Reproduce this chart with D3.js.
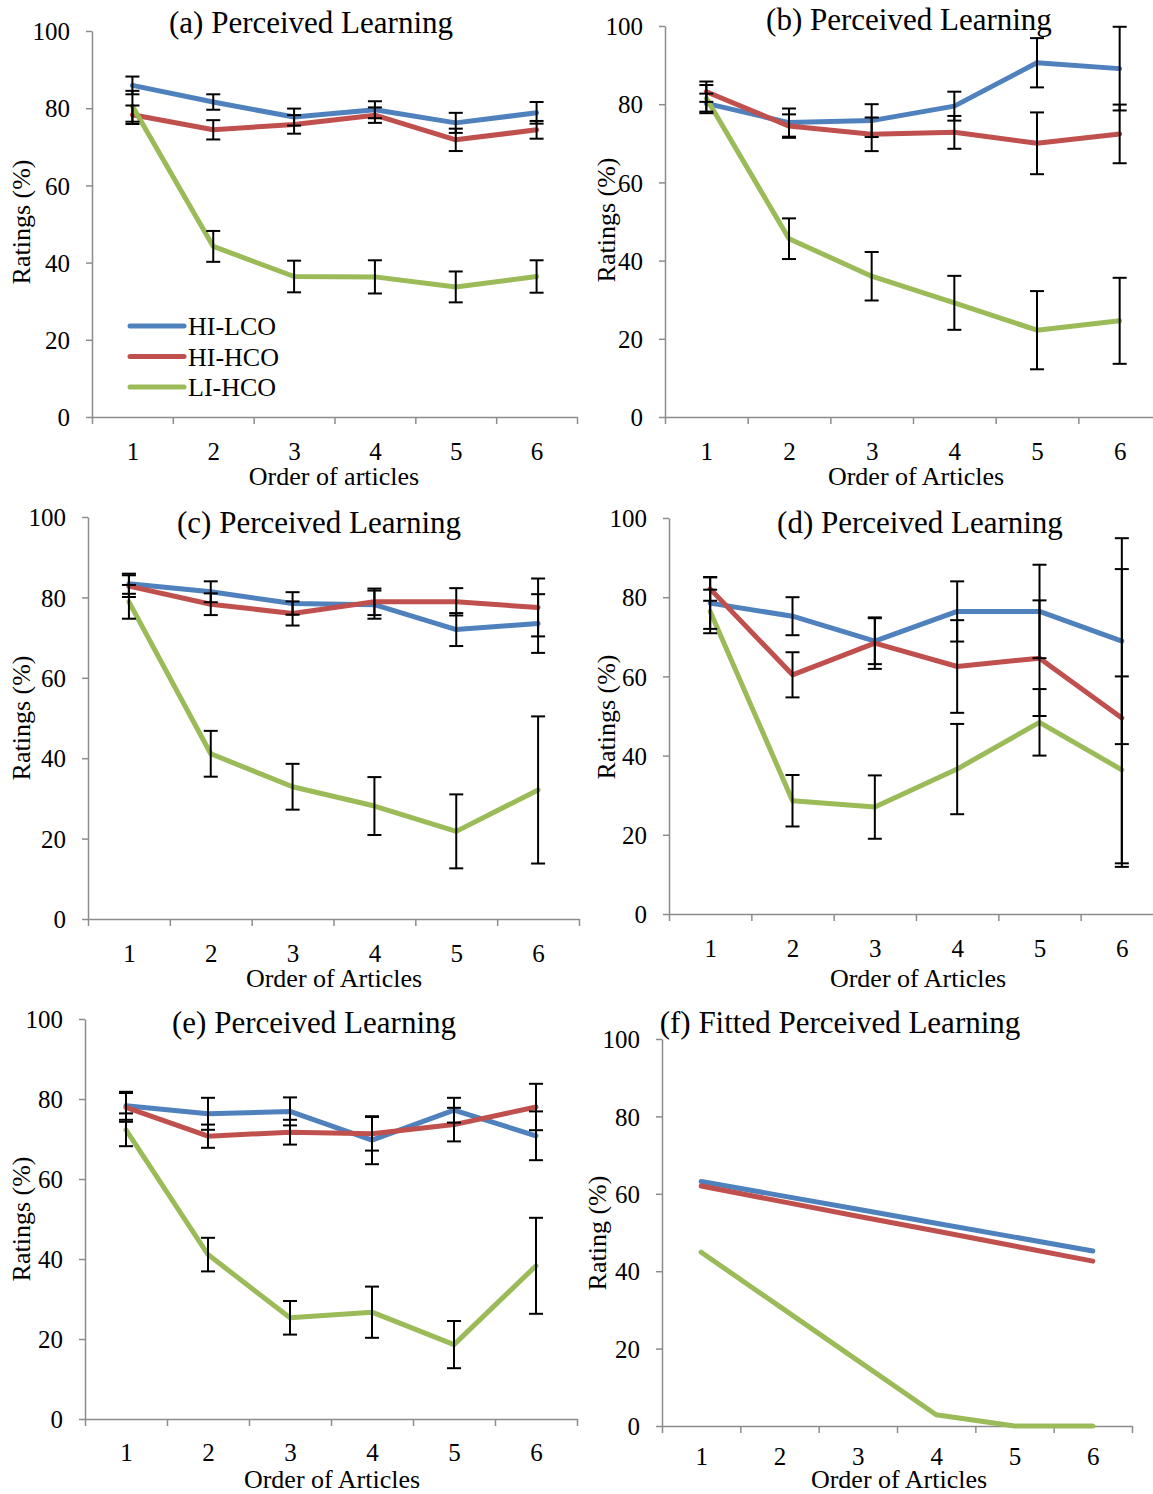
<!DOCTYPE html>
<html>
<head>
<meta charset="utf-8">
<script src="https://cdn.jsdelivr.net/npm/d3@7"></script>
<style>
  body { margin: 0; background: #fff; }
  svg text { font-family: "Liberation Serif", "Times New Roman", serif; fill: #000; }
  .axis path, .axis line { stroke: #8c8c8c; stroke-width: 1.5; }
  .axis text { font-size: 25px; }
</style>
</head>
<body>
<div id="chart"></div>
<script>
// categories and series
const categories = [1, 2, 3, 4, 5, 6];
const seriesNames = ["HI-LCO", "HI-HCO", "LI-HCO"];
const seriesColors = ["#4f81bd", "#c0504d", "#9bbb59"];
const yTicks = [0, 20, 40, 60, 80, 100];

// (a) means and error half-widths, one row per series (HI-LCO, HI-HCO, LI-HCO)
const meansA = [
  [85.9, 81.6, 77.7, 79.6, 76.2, 78.8],
  [78.3, 74.4, 75.8, 78.2, 71.8, 74.4],
  [80.5, 44.2, 36.4, 36.3, 33.7, 36.4]
];
const errA = [
  [2.3, 2.0, 2.2, 2.2, 2.6, 2.8],
  [2.4, 2.5, 2.4, 2.0, 2.9, 2.3],
  [4.0, 4.0, 4.1, 4.3, 4.0, 4.2]
];

// (b)
const meansB = [
  [80.2, 75.3, 75.8, 79.5, 90.6, 89.1],
  [83.2, 74.4, 72.3, 72.8, 70.0, 72.4],
  [81.5, 45.6, 36.0, 29.2, 22.2, 24.6]
];
const errB = [
  [2.5, 3.6, 4.2, 3.7, 6.3, 10.7],
  [2.6, 3.0, 4.3, 4.2, 7.9, 7.5],
  [3.4, 5.2, 6.2, 6.9, 10.0, 11.0]
];

// (c)
const meansC = [
  [83.4, 81.4, 78.5, 78.2, 72.0, 73.5],
  [82.8, 78.3, 76.0, 78.9, 78.9, 77.5],
  [78.9, 41.1, 32.9, 28.1, 21.8, 32.1]
];
const errC = [
  [2.5, 2.6, 2.8, 3.5, 4.1, 7.3],
  [2.7, 2.7, 3.0, 3.3, 3.4, 7.2],
  [4.2, 5.7, 5.7, 7.2, 9.2, 18.3]
];

// (d)
const meansD = [
  [78.5, 75.2, 68.9, 76.4, 76.4, 68.9],
  [82.1, 60.4, 68.4, 62.5, 64.6, 49.5],
  [76.4, 28.6, 27.0, 36.6, 48.4, 36.4]
];
const errD = [
  [6.5, 4.8, 5.8, 7.6, 11.8, 26.0],
  [3.0, 5.7, 6.5, 11.7, 14.6, 37.6],
  [5.5, 6.5, 8.0, 11.4, 8.4, 23.6]
];

// (e)
const meansE = [
  [78.3, 76.3, 76.9, 69.7, 77.2, 70.8],
  [77.9, 70.7, 71.7, 71.3, 73.6, 78.0],
  [72.3, 41.1, 25.3, 26.7, 18.6, 38.3]
];
const errE = [
  [3.5, 4.0, 3.5, 6.0, 3.1, 6.1],
  [3.6, 2.9, 3.1, 4.2, 4.2, 5.8],
  [4.1, 4.2, 4.2, 6.4, 5.9, 12.0]
];

// (f) fitted values, no error bars
const meansF = [
  [63.2, 59.6, 56.0, 52.4, 48.8, 45.2],
  [62.0, 58.1, 54.2, 50.4, 46.5, 42.6],
  [44.9, 30.9, 16.9, 2.9, 0, 0]
];

const width = 1153;
const height = 1494;

const svg = d3.select("#chart")
  .append("svg")
  .attr("width", width)
  .attr("height", height)
  .attr("viewBox", [0, 0, width, height]);

svg.append("rect").attr("width", width).attr("height", height).attr("fill", "#fff");

// panel layouts (pixel positions only)
const panels = [
  { means: meansA, err: errA, title: "(a) Perceived Learning", xLabel: "Order of articles", yLabel: "Ratings (%)",
    x0: 92, x1: 577, yTop: 31, yBot: 417, titleX: 311, titleY: 33, yLabelX: 30, yLabelY: 222,
    xLabelX: 334, xLabelY: 485, tickY: 460, legend: true },
  { means: meansB, err: errB, title: "(b) Perceived Learning", xLabel: "Order of Articles", yLabel: "Ratings (%)",
    x0: 665, x1: 1161, yTop: 26, yBot: 417, titleX: 909, titleY: 30, yLabelX: 615, yLabelY: 220,
    xLabelX: 916, xLabelY: 485, tickY: 460 },
  { means: meansC, err: errC, title: "(c) Perceived Learning", xLabel: "Order of Articles", yLabel: "Ratings (%)",
    x0: 88, x1: 579, yTop: 517, yBot: 919, titleX: 319, titleY: 533, yLabelX: 30, yLabelY: 718,
    xLabelX: 334, xLabelY: 987, tickY: 962 },
  { means: meansD, err: errD, title: "(d) Perceived Learning", xLabel: "Order of Articles", yLabel: "Ratings (%)",
    x0: 669, x1: 1163, yTop: 518, yBot: 914, titleX: 920, titleY: 533, yLabelX: 615, yLabelY: 717,
    xLabelX: 918, xLabelY: 987, tickY: 957 },
  { means: meansE, err: errE, title: "(e) Perceived Learning", xLabel: "Order of Articles", yLabel: "Ratings (%)",
    x0: 85, x1: 577, yTop: 1019, yBot: 1419, titleX: 314, titleY: 1033, yLabelX: 30, yLabelY: 1219,
    xLabelX: 332, xLabelY: 1488, tickY: 1461 },
  { means: meansF, err: null, title: "(f) Fitted Perceived Learning", xLabel: "Order of Articles", yLabel: "Rating (%)",
    x0: 662, x1: 1132, yTop: 1039, yBot: 1426, titleX: 840, titleY: 1033, yLabelX: 606, yLabelY: 1233,
    xLabelX: 899, xLabelY: 1488, tickY: 1465 }
];

function drawPanel(p) {
  const g = svg.append("g");

  const x = d3.scaleLinear().domain([0.5, 6.5]).range([p.x0, p.x1]);
  const y = d3.scaleLinear().domain([0, 100]).range([p.yBot, p.yTop]);

  // y axis
  g.append("g")
    .attr("class", "axis")
    .attr("transform", `translate(${p.x0},0)`)
    .call(d3.axisLeft(y).tickValues(yTicks).tickSize(6).tickPadding(16).tickSizeOuter(0))
    .call(a => a.selectAll("text").attr("dy", "0.35em"));

  // x axis: tick marks between categories
  g.append("g")
    .attr("class", "axis")
    .attr("transform", `translate(0,${p.yBot})`)
    .call(d3.axisBottom(x).tickValues(d3.range(0.5, 7, 1)).tickFormat("").tickSize(7).tickSizeOuter(0));

  // x tick labels at category centres
  g.append("g")
    .attr("class", "axis")
    .attr("transform", `translate(0,${p.yBot})`)
    .call(d3.axisBottom(x).tickValues(categories).tickFormat(d3.format("d")).tickSize(0))
    .call(a => a.select(".domain").remove())
    .call(a => a.selectAll("text").attr("y", p.tickY - p.yBot).attr("dy", 0));

  const line = d3.line()
    .x((d, i) => x(categories[i]))
    .y(d => y(d));

  p.means.forEach((vals, s) => {
    g.append("path")
      .datum(vals)
      .attr("fill", "none")
      .attr("stroke", seriesColors[s])
      .attr("stroke-width", 5)
      .attr("stroke-linejoin", "round")
      .attr("stroke-linecap", "round")
      .attr("d", line);
  });

  // error bars
  if (p.err) {
    p.means.forEach((vals, s) => {
      const bars = g.append("g")
        .attr("stroke", "#000")
        .attr("stroke-width", 2)
        .selectAll("g")
        .data(vals.map((v, i) => ({ c: categories[i], v, e: p.err[s][i] })))
        .join("g");
      bars.append("line")
        .attr("x1", d => x(d.c)).attr("x2", d => x(d.c))
        .attr("y1", d => y(d.v + d.e)).attr("y2", d => y(d.v - d.e));
      bars.append("line")
        .attr("x1", d => x(d.c) - 7).attr("x2", d => x(d.c) + 7)
        .attr("y1", d => y(d.v + d.e)).attr("y2", d => y(d.v + d.e));
      bars.append("line")
        .attr("x1", d => x(d.c) - 7).attr("x2", d => x(d.c) + 7)
        .attr("y1", d => y(d.v - d.e)).attr("y2", d => y(d.v - d.e));
    });
  }

  // title
  g.append("text")
    .attr("x", p.titleX)
    .attr("y", p.titleY)
    .attr("text-anchor", "middle")
    .attr("font-size", 31)
    .text(p.title);

  // axis titles
  g.append("text")
    .attr("x", p.xLabelX)
    .attr("y", p.xLabelY)
    .attr("text-anchor", "middle")
    .attr("font-size", 26)
    .text(p.xLabel);

  g.append("text")
    .attr("transform", `translate(${p.yLabelX},${p.yLabelY}) rotate(-90)`)
    .attr("text-anchor", "middle")
    .attr("font-size", 26)
    .text(p.yLabel);

  if (p.legend) {
    const lg = g.append("g").selectAll("g")
      .data(seriesNames)
      .join("g")
      .attr("transform", (d, i) => `translate(130,${326 + i * 30.5})`);
    lg.append("line")
      .attr("x1", 0).attr("x2", 54)
      .attr("stroke", (d, i) => seriesColors[i])
      .attr("stroke-width", 5)
      .attr("stroke-linecap", "round");
    lg.append("text")
      .attr("x", 58)
      .attr("y", 9)
      .attr("font-size", 26)
      .text(d => d);
  }
}

panels.forEach(drawPanel);
</script>
</body>
</html>
